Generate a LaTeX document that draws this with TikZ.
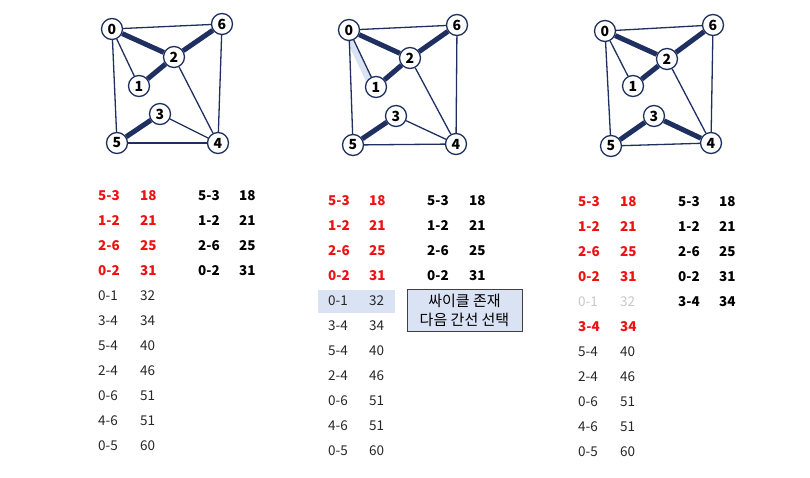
\documentclass[tikz,border=0pt]{standalone}
\usepackage{fontspec}
\setmainfont{Noto Sans CJK KR}
\usetikzlibrary{backgrounds}
\definecolor{navy}{HTML}{1E2F60}
\definecolor{selred}{HTML}{EE1111}
\definecolor{paleblue}{HTML}{DAE3F3}
\definecolor{txtgray}{HTML}{262626}
\definecolor{skipgray}{HTML}{C8C8C8}
\begin{document}
\begin{tikzpicture}[x=1pt, y=-1pt,
  vx/.style={circle, draw=navy, line width=1.3pt, fill=white, inner sep=0pt, minimum size=21pt, font=\fontsize{14}{14}\selectfont\bfseries},
  ed/.style={draw=navy, line width=1.3pt},
  ek/.style={draw=navy, line width=5pt},
  hl/.style={draw=paleblue, line width=6pt},
  tx/.style={anchor=west, inner sep=0pt, font=\fontsize{13.5}{14}\selectfont, text=txtgray},
  tr/.style={anchor=west, inner sep=0pt, font=\fontsize{13.5}{14}\selectfont\bfseries, text=selred},
  tb/.style={anchor=west, inner sep=0pt, font=\fontsize{13.5}{14}\selectfont\bfseries, text=black},
  tg/.style={anchor=west, inner sep=0pt, font=\fontsize{13.5}{14}\selectfont, text=skipgray}]
\useasboundingbox (0,0) rectangle (810,478);
% first graph: four cheapest edges taken
\begin{scope}[shift={(112,29)}]
\node[vx] (a0) at (0,0) {0};     \node[vx] (a6) at (110,-5) {6};  \node[vx] (a2) at (62,28) {2};
\node[vx] (a1) at (27,57) {1};   \node[vx] (a3) at (48,85) {3};
\node[vx] (a5) at (5,114) {5};   \node[vx] (a4) at (106,114) {4};
\end{scope}
\draw[ed] (a0)--(a6); \draw[ed] (a0)--(a1); \draw[ed] (a0)--(a5); \draw[ed] (a2)--(a4);
\draw[ed] (a3)--(a4); \draw[ed] (a5)--(a4); \draw[ed] (a6)--(a4);
\draw[ek] (a0)--(a2); \draw[ek] (a1)--(a2); \draw[ek] (a2)--(a6); \draw[ek] (a5)--(a3);
% second graph: 0-1 would close a cycle, shown as a pale band
\begin{scope}[shift={(349,30)}]
\node[vx] (b0) at (0,0) {0};     \node[vx] (b6) at (108,-5) {6};  \node[vx] (b2) at (61,28) {2};
\node[vx] (b1) at (27,57) {1};   \node[vx] (b3) at (47,86) {3};
\node[vx] (b5) at (4,115) {5};   \node[vx] (b4) at (107,114) {4};
\end{scope}
\begin{pgfonlayer}{background}
\draw[hl] ([xshift=-4pt]b0.center) -- ([xshift=-4pt]b1.center);
\end{pgfonlayer}
\draw[ed] (b0)--(b6); \draw[ed] (b0)--(b1); \draw[ed] (b0)--(b5); \draw[ed] (b2)--(b4);
\draw[ed] (b3)--(b4); \draw[ed] (b5)--(b4); \draw[ed] (b6)--(b4);
\draw[ek] (b0)--(b2); \draw[ek] (b1)--(b2); \draw[ek] (b2)--(b6); \draw[ek] (b5)--(b3);
% third graph: 3-4 joins the tree
\begin{scope}[shift={(605,31)}]
\node[vx] (c0) at (0,0) {0};     \node[vx] (c6) at (108,-6) {6};  \node[vx] (c2) at (62,28) {2};
\node[vx] (c1) at (28,55) {1};   \node[vx] (c3) at (49,85) {3};
\node[vx] (c5) at (6,115) {5};   \node[vx] (c4) at (106,112) {4};
\end{scope}
\draw[ed] (c0)--(c6); \draw[ed] (c0)--(c1); \draw[ed] (c0)--(c5); \draw[ed] (c2)--(c4);
\draw[ed] (c5)--(c4); \draw[ed] (c6)--(c4);
\draw[ek] (c0)--(c2); \draw[ek] (c1)--(c2); \draw[ek] (c2)--(c6); \draw[ek] (c5)--(c3);
\draw[ek] (c3)--(c4);
% first table
\node[tr] (p1e1) at (98,196) {5-3};  \node[tr] (p1w1) at (140,196) {18};
\node[tr] (p1e2) at (98,221) {1-2};  \node[tr] (p1w2) at (140,221) {21};
\node[tr] (p1e3) at (98,246) {2-6};  \node[tr] (p1w3) at (140,246) {25};
\node[tr] (p1e4) at (98,271) {0-2};  \node[tr] (p1w4) at (140,271) {31};
\node[tx] (p1e5) at (98,296) {0-1};  \node[tx] (p1w5) at (140,296) {32};
\node[tx] (p1e6) at (98,321) {3-4};  \node[tx] (p1w6) at (140,321) {34};
\node[tx] (p1e7) at (98,346) {5-4};  \node[tx] (p1w7) at (140,346) {40};
\node[tx] (p1e8) at (98,371) {2-4};  \node[tx] (p1w8) at (140,371) {46};
\node[tx] (p1e9) at (98,396) {0-6};  \node[tx] (p1w9) at (140,396) {51};
\node[tx] (p1e10) at (98,421) {4-6}; \node[tx] (p1w10) at (140,421) {51};
\node[tx] (p1e11) at (98,446) {0-5}; \node[tx] (p1w11) at (140,446) {60};
\node[tb] (q1e1) at (198,196) {5-3}; \node[tb] (q1w1) at (239,196) {18};
\node[tb] (q1e2) at (198,221) {1-2}; \node[tb] (q1w2) at (239,221) {21};
\node[tb] (q1e3) at (198,246) {2-6}; \node[tb] (q1w3) at (239,246) {25};
\node[tb] (q1e4) at (198,271) {0-2}; \node[tb] (q1w4) at (239,271) {31};
% second table, with the rejected row marked
\node[fill=paleblue, inner sep=0pt, minimum width=77pt, minimum height=23pt] (hlrow) at (356.5,301.5) {};
\node[tr] (p2e1) at (328,201) {5-3};  \node[tr] (p2w1) at (369,201) {18};
\node[tr] (p2e2) at (328,226) {1-2};  \node[tr] (p2w2) at (369,226) {21};
\node[tr] (p2e3) at (328,251) {2-6};  \node[tr] (p2w3) at (369,251) {25};
\node[tr] (p2e4) at (328,276) {0-2};  \node[tr] (p2w4) at (369,276) {31};
\node[tx] (p2e5) at (328,301) {0-1};  \node[tx] (p2w5) at (369,301) {32};
\node[tx] (p2e6) at (328,326) {3-4};  \node[tx] (p2w6) at (369,326) {34};
\node[tx] (p2e7) at (328,351) {5-4};  \node[tx] (p2w7) at (369,351) {40};
\node[tx] (p2e8) at (328,376) {2-4};  \node[tx] (p2w8) at (369,376) {46};
\node[tx] (p2e9) at (328,401) {0-6};  \node[tx] (p2w9) at (369,401) {51};
\node[tx] (p2e10) at (328,426) {4-6}; \node[tx] (p2w10) at (369,426) {51};
\node[tx] (p2e11) at (328,451) {0-5}; \node[tx] (p2w11) at (369,451) {60};
\node[tb] (q2e1) at (427,201) {5-3}; \node[tb] (q2w1) at (469,201) {18};
\node[tb] (q2e2) at (427,226) {1-2}; \node[tb] (q2w2) at (469,226) {21};
\node[tb] (q2e3) at (427,251) {2-6}; \node[tb] (q2w3) at (469,251) {25};
\node[tb] (q2e4) at (427,276) {0-2}; \node[tb] (q2w4) at (469,276) {31};
\node[draw=black!75, line width=0.9pt, fill=paleblue, align=center, inner sep=0pt, minimum width=115pt, minimum height=42pt,
  font=\fontsize{15}{19}\selectfont] (note) at (464.5,310) {싸이클 존재\\다음 간선 선택};
% third table
\node[tr] (p3e1) at (578,202) {5-3};  \node[tr] (p3w1) at (620,202) {18};
\node[tr] (p3e2) at (578,227) {1-2};  \node[tr] (p3w2) at (620,227) {21};
\node[tr] (p3e3) at (578,252) {2-6};  \node[tr] (p3w3) at (620,252) {25};
\node[tr] (p3e4) at (578,277) {0-2};  \node[tr] (p3w4) at (620,277) {31};
\node[tg] (p3e5) at (578,302) {0-1};  \node[tg] (p3w5) at (620,302) {32};
\node[tr] (p3e6) at (578,327) {3-4};  \node[tr] (p3w6) at (620,327) {34};
\node[tx] (p3e7) at (578,352) {5-4};  \node[tx] (p3w7) at (620,352) {40};
\node[tx] (p3e8) at (578,377) {2-4};  \node[tx] (p3w8) at (620,377) {46};
\node[tx] (p3e9) at (578,402) {0-6};  \node[tx] (p3w9) at (620,402) {51};
\node[tx] (p3e10) at (578,427) {4-6}; \node[tx] (p3w10) at (620,427) {51};
\node[tx] (p3e11) at (578,452) {0-5}; \node[tx] (p3w11) at (620,452) {60};
\node[tb] (q3e1) at (678,202) {5-3}; \node[tb] (q3w1) at (719,202) {18};
\node[tb] (q3e2) at (678,227) {1-2}; \node[tb] (q3w2) at (719,227) {21};
\node[tb] (q3e3) at (678,252) {2-6}; \node[tb] (q3w3) at (719,252) {25};
\node[tb] (q3e4) at (678,277) {0-2}; \node[tb] (q3w4) at (719,277) {31};
\node[tb] (q3e5) at (678,302) {3-4}; \node[tb] (q3w5) at (719,302) {34};
\end{tikzpicture}
\end{document}
